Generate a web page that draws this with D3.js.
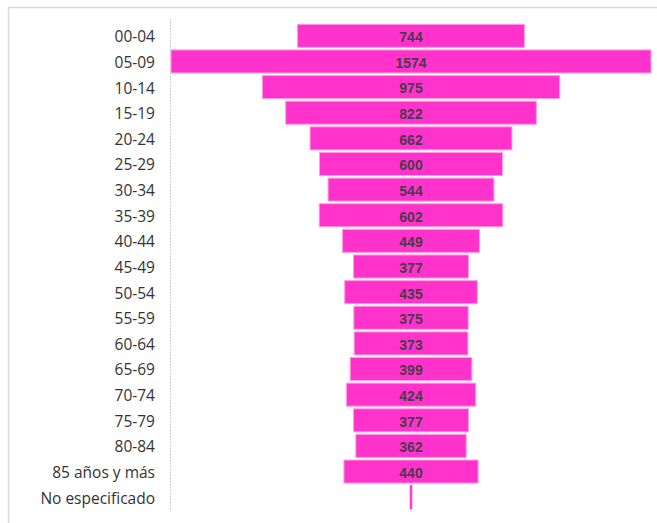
<!DOCTYPE html>
<html>
<head>
<meta charset="utf-8">
<script src="https://cdn.jsdelivr.net/npm/d3@7"></script>
<style>
  body { margin: 0; background: #fff; }
</style>
</head>
<body>
<div id="chart"></div>
<script>
// Age groups and counts (funnel)
const ageGroups = ['00-04', '05-09', '10-14', '15-19', '20-24', '25-29', '30-34', '35-39',
  '40-44', '45-49', '50-54', '55-59', '60-64', '65-69', '70-74', '75-79', '80-84',
  '85 años y más', 'No especificado'];
const counts = [744, 1574, 975, 822, 662, 600, 544, 602, 449, 377, 435, 375, 373, 399,
  424, 377, 362, 440, 5];

const width = 657;
const height = 523;
const centerX = 411;
const barFill = '#ff33cc';

const svg = d3.select('#chart')
  .append('svg')
  .attr('width', width)
  .attr('height', height);

// frame (only top and left edges show)
svg.append('path')
  .attr('d', `M8.5,${height} V7.5 H${width}`)
  .attr('fill', 'none')
  .attr('stroke', '#d9d9d9')
  .attr('stroke-width', 1.5);

const data = ageGroups.map((g, i) => ({ group: g, value: counts[i] }));

const y = d3.scaleBand()
  .domain(ageGroups)
  .range([23, 510])
  .paddingInner(0.1)
  .paddingOuter(0.05);

// full bar width scale: largest bar spans 480px
const w = d3.scaleLinear()
  .domain([0, d3.max(counts)])
  .range([0, 480]);

// dotted category axis line
svg.append('line')
  .attr('x1', centerX - w(d3.max(counts)) / 2 - 0.5)
  .attr('x2', centerX - w(d3.max(counts)) / 2 - 0.5)
  .attr('y1', 19)
  .attr('y2', 511)
  .attr('stroke', '#bfbfbf')
  .attr('stroke-dasharray', '1.5,1.5');

// category labels
svg.selectAll('.cat')
  .data(data)
  .enter()
  .append('text')
  .attr('class', 'cat')
  .attr('x', 155)
  .attr('y', d => y(d.group) + y.bandwidth() / 2 + 1)
  .attr('dy', '0.35em')
  .attr('text-anchor', 'end')
  .style('font-family', '"Open Sans", "Noto Sans", sans-serif')
  .style('font-size', '15.5px')
  .style('fill', '#333')
  .text(d => d.group);

// bars
svg.selectAll('.bar')
  .data(data)
  .enter()
  .append('rect')
  .attr('class', 'bar')
  .attr('x', d => centerX - w(d.value) / 2)
  .attr('y', d => y(d.group))
  .attr('width', d => w(d.value))
  .attr('height', y.bandwidth())
  .attr('fill', barFill)
  .attr('stroke', d => w(d.value) < 3 ? barFill : '#ff9fe6')
  .attr('stroke-width', 1);

// value labels (skip bars too narrow to hold text)
svg.selectAll('.val')
  .data(data.filter(d => w(d.value) > 30))
  .enter()
  .append('text')
  .attr('class', 'val')
  .attr('x', centerX)
  .attr('y', d => y(d.group) + y.bandwidth() / 2 + 1.5)
  .attr('dy', '0.35em')
  .attr('text-anchor', 'middle')
  .style('font-family', '"Liberation Sans", Arial, sans-serif')
  .style('font-weight', 'bold')
  .style('font-size', '14px')
  .style('fill', '#4a3a4a')
  .text(d => d.value);
</script>
</body>
</html>
